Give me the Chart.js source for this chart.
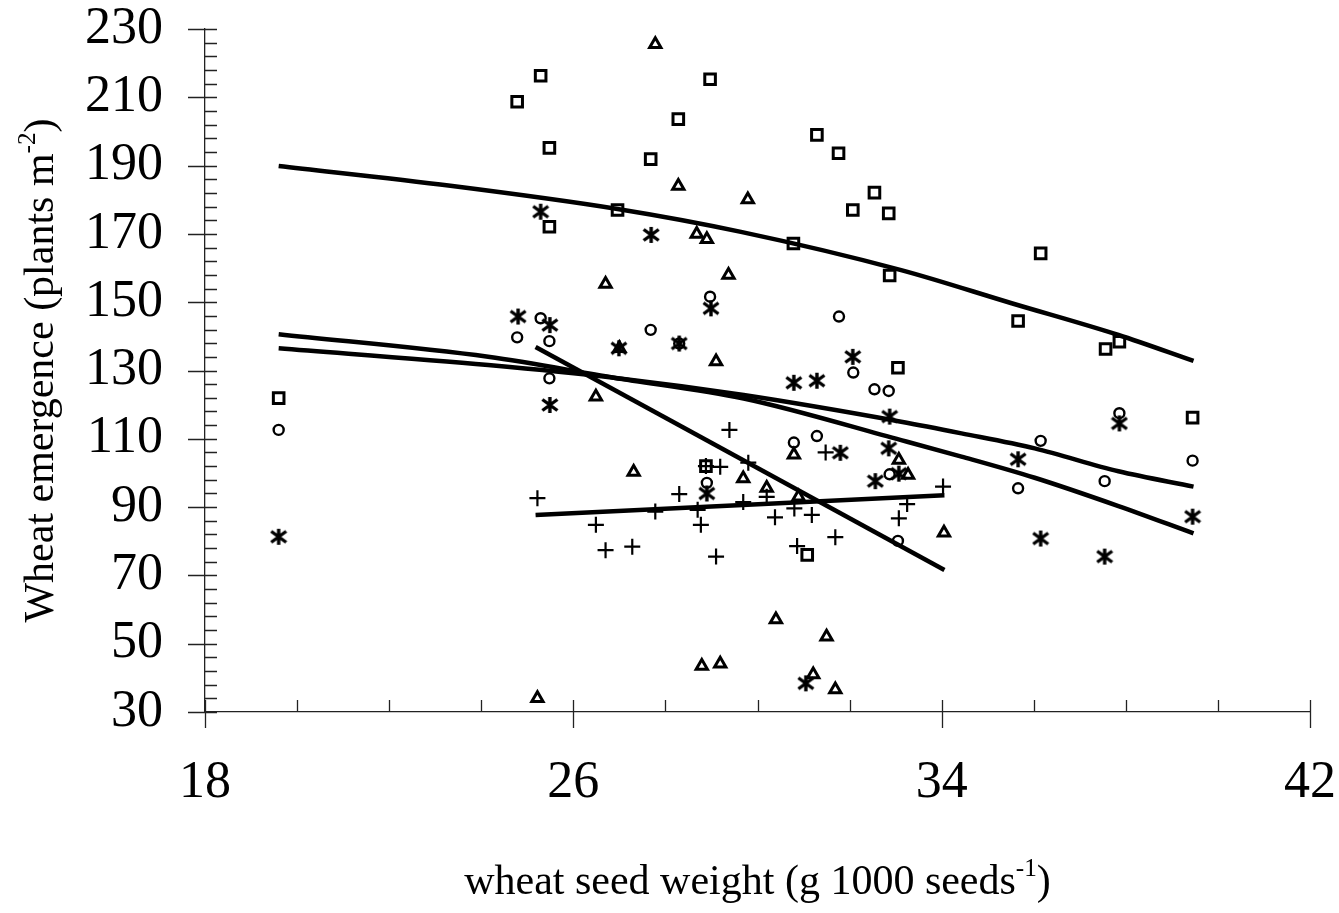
<!DOCTYPE html>
<html lang="en">
<head>
<meta charset="UTF-8">
<title>Wheat emergence vs seed weight</title>
<script src="https://cdn.jsdelivr.net/npm/chart.js"></script>
<style>
  body { margin: 0; background: #fff; }
  canvas { display: block; }
</style>
</head>
<body>
<canvas id="myChart" width="1339" height="913"></canvas>
<script>
// observed points, [seed weight, emergence]
const squarePts = [
  [19.6, 121.9], [24.78, 208.7], [25.29, 216.3], [25.48, 195.2], [25.48, 172.1],
  [26.96, 177.0], [27.68, 191.9], [28.28, 203.6], [28.97, 215.3], [28.88, 102.0],
  [30.78, 167.2], [31.29, 199.0], [31.76, 193.6], [32.07, 177.0], [32.54, 182.1],
  [32.85, 176.0], [32.87, 157.8], [33.05, 130.8], [31.08, 76.0], [35.66, 144.5],
  [36.15, 164.3], [37.56, 136.3], [37.86, 138.4], [39.45, 116.2]
];
const circlePts = [
  [19.6, 112.6], [24.78, 139.7], [25.29, 145.3], [25.48, 138.6], [25.48, 127.7],
  [27.68, 141.9], [28.3, 137.9], [28.97, 151.6], [28.9, 97.1], [31.77, 145.8],
  [32.08, 129.4], [32.54, 124.5], [32.85, 124.0], [31.29, 110.8], [30.79, 108.9],
  [32.87, 99.6], [33.05, 80.1], [35.66, 95.5], [36.15, 109.4], [37.54, 97.6],
  [37.86, 117.5], [39.45, 103.6]
];
const trianglePts = [
  [25.22, 34.0], [26.49, 122.3], [26.7, 155.3], [27.0, 136.5], [27.31, 100.3],
  [27.78, 225.5], [28.28, 184.0], [28.68, 170.0], [28.9, 168.4], [29.1, 132.6],
  [29.37, 158.0], [28.79, 43.5], [29.19, 44.1], [29.69, 98.4], [29.79, 180.1],
  [30.2, 95.6], [30.4, 57.1], [30.79, 105.3], [30.89, 93.0], [31.21, 41.0],
  [31.5, 52.0], [31.69, 36.6], [33.07, 103.8], [33.27, 99.4], [34.05, 82.5]
];
const asteriskPts = [
  [19.6, 81.3], [24.8, 145.8], [25.29, 176.5], [25.49, 143.3], [25.49, 119.9],
  [26.99, 136.5], [27.69, 169.7], [28.3, 137.9], [28.99, 148.2], [28.9, 94.0],
  [30.79, 126.4], [31.29, 127.0], [32.07, 134.0], [31.8, 105.9], [32.87, 116.5],
  [32.85, 107.2], [33.07, 99.8], [32.56, 97.6], [31.05, 38.4], [35.66, 104.0],
  [36.15, 80.8], [37.54, 75.5], [37.86, 114.5], [39.45, 87.2]
];
const plusPts = [
  [25.22, 92.6], [26.49, 84.8], [26.7, 77.4], [27.28, 78.4], [27.78, 88.7],
  [28.3, 93.8], [28.7, 89.2], [28.77, 84.8], [28.88, 102.0], [29.19, 101.8],
  [29.1, 75.5], [29.39, 112.6], [29.8, 103.0], [29.69, 91.5], [30.2, 93.0],
  [30.38, 87.0], [30.8, 89.6], [30.86, 78.6], [31.18, 87.7], [31.48, 106.0],
  [31.69, 81.2], [33.07, 86.7], [33.25, 90.9], [34.03, 96.0]
];

// fitted curves
const fitSquares = [[19.6, 189.9], [23.33, 184.1], [26.96, 177.3], [29.64, 170.6], [33.12, 159.4], [35.52, 149.7], [37.84, 140.4], [39.47, 132.8]];
const fitAsterisks = [[19.6, 140.6], [24.15, 134.0], [26.88, 127.9], [29.7, 121.8], [33.12, 109.6], [34.43, 104.8], [36.02, 98.6], [37.84, 90.3], [39.47, 82.3]];
const fitCircles = [[19.6, 136.5], [24.15, 131.6], [26.88, 127.9], [29.7, 122.8], [33.12, 115.0], [34.43, 111.6], [36.02, 107.2], [37.84, 100.5], [39.47, 96.0]];
const fitTriangles = [[25.18, 136.9], [34.06, 71.6]];
const fitPlus = [[25.18, 87.7], [34.06, 93.5]];

const xTicks = [18, 26, 34, 42];
const yTicks = [30, 50, 70, 90, 110, 130, 150, 170, 190, 210, 230];
const xTitle = ['wheat seed weight (g 1000 seeds', '-1', ')'];
const yTitle = ['Wheat emergence (plants m', '-2', ')'];

const FONT = "'Liberation Serif', 'Times New Roman', serif";
const toXY = arr => arr.map(p => ({ x: p[0], y: p[1] }));

// asterisk marker: vertical bar plus two diagonals
function makeAsterisk() {
  const c = document.createElement('canvas');
  c.width = 18; c.height = 18;
  const g = c.getContext('2d');
  g.strokeStyle = '#000';
  g.lineWidth = 3.4;
  g.beginPath();
  g.moveTo(9, 1); g.lineTo(9, 17);
  g.moveTo(1.5, 3.5); g.lineTo(16.5, 14.5);
  g.moveTo(16.5, 3.5); g.lineTo(1.5, 14.5);
  g.stroke();
  return c;
}

function drawRich(ctx, parts, size) {
  // parts: normal, superscript, normal; drawn centred on x = 0, baseline y = 0
  const sup = size * 0.6;
  ctx.font = size + 'px ' + FONT;
  const w0 = ctx.measureText(parts[0]).width;
  const w2 = ctx.measureText(parts[2]).width;
  ctx.font = sup + 'px ' + FONT;
  const w1 = ctx.measureText(parts[1]).width;
  let x = -(w0 + w1 + w2) / 2;
  ctx.textAlign = 'left';
  ctx.textBaseline = 'alphabetic';
  ctx.font = size + 'px ' + FONT;
  ctx.fillText(parts[0], x, 0);
  x += w0;
  ctx.font = sup + 'px ' + FONT;
  ctx.fillText(parts[1], x, -size * 0.42);
  x += w1;
  ctx.font = size + 'px ' + FONT;
  ctx.fillText(parts[2], x, 0);
}

const axisDecor = {
  id: 'axisDecor',
  afterDraw(chart) {
    const ctx = chart.ctx;
    const xs = chart.scales.x, ys = chart.scales.y;
    const area = chart.chartArea;
    ctx.save();
    ctx.strokeStyle = '#222';
    ctx.lineWidth = 1.3;
    ctx.beginPath();
    for (let v = ys.min; v <= ys.max + 0.01; v += 4) {
      const py = Math.round(ys.getPixelForValue(v)) + 0.5;
      const major = yTicks.includes(v);
      ctx.moveTo(major ? area.left - 17 : area.left, py);
      ctx.lineTo(area.left + 12, py);
    }
    for (let v = xs.min; v <= xs.max + 0.01; v += 2) {
      const px = Math.round(xs.getPixelForValue(v)) + 0.5;
      const major = xTicks.includes(v);
      ctx.moveTo(px, major ? area.bottom + 16 : area.bottom);
      ctx.lineTo(px, area.bottom - 12);
    }
    ctx.stroke();

    ctx.fillStyle = '#000';
    ctx.save();
    ctx.translate((area.left + area.right) / 2, 894);
    drawRich(ctx, xTitle, 42);
    ctx.restore();

    ctx.save();
    ctx.translate(53, (area.top + area.bottom) / 2);
    ctx.rotate(-Math.PI / 2);
    drawRich(ctx, yTitle, 42);
    ctx.restore();
    ctx.restore();
  }
};

function pointSet(data, style, radius, width) {
  return {
    data: toXY(data),
    showLine: false,
    pointStyle: style,
    pointRadius: radius,
    pointBorderWidth: width,
    pointBorderColor: '#000',
    pointBackgroundColor: 'rgba(255,255,255,0)',
    order: 2
  };
}

function lineSet(data) {
  return {
    data: toXY(data),
    showLine: true,
    pointRadius: 0,
    borderColor: '#000',
    borderWidth: 4.5,
    cubicInterpolationMode: 'monotone',
    fill: false,
    order: 1
  };
}

const ctx = document.getElementById('myChart').getContext('2d');
const myChart = new Chart(ctx, {
  type: 'scatter',
  data: {
    datasets: [
      pointSet(squarePts, 'rect', 7.5, 3),
      pointSet(circlePts, 'circle', 5, 2.4),
      pointSet(trianglePts, 'triangle', 6.5, 3),
      pointSet(asteriskPts, makeAsterisk(), 8, 2),
      pointSet(plusPts, 'cross', 8, 2.2),
      lineSet(fitSquares),
      lineSet(fitAsterisks),
      lineSet(fitCircles),
      lineSet(fitTriangles),
      lineSet(fitPlus)
    ]
  },
  options: {
    responsive: false,
    animation: false,
    layout: { padding: { left: 0, top: 29, right: 29, bottom: 0 } },
    plugins: {
      legend: { display: false },
      tooltip: { enabled: false }
    },
    scales: {
      x: {
        type: 'linear',
        min: 18,
        max: 42,
        afterBuildTicks: s => { s.ticks = xTicks.map(v => ({ value: v })); },
        afterFit: s => { s.height = 201; },
        grid: { display: true, drawOnChartArea: false, drawTicks: true, tickLength: 45, tickColor: 'rgba(0,0,0,0)' },
        border: { display: true, color: '#222', width: 1.3 },
        ticks: {
          color: '#000',
          padding: 0,
          maxRotation: 0,
          autoSkip: false,
          font: { family: FONT, size: 52, lineHeight: 1 }
        }
      },
      y: {
        type: 'linear',
        min: 30,
        max: 230,
        afterBuildTicks: s => { s.ticks = yTicks.map(v => ({ value: v })); },
        afterFit: s => { s.width = 205; },
        grid: { display: true, drawOnChartArea: false, drawTicks: true, tickLength: 42, tickColor: 'rgba(0,0,0,0)' },
        border: { display: true, color: '#222', width: 1.3 },
        ticks: {
          color: '#000',
          padding: 0,
          autoSkip: false,
          font: { family: FONT, size: 52, lineHeight: 1 }
        }
      }
    }
  },
  plugins: [axisDecor]
});
</script>
</body>
</html>
